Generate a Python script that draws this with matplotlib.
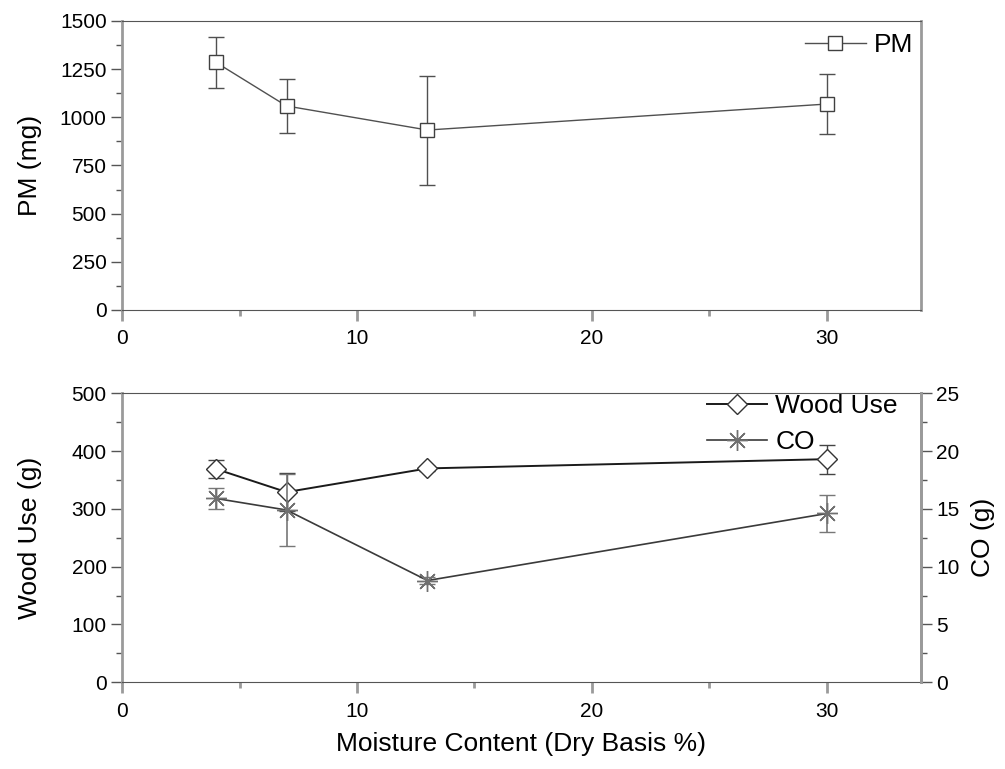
import numpy as np
import matplotlib
matplotlib.use("Agg")
import matplotlib.pyplot as plt
from matplotlib.ticker import MultipleLocator

plt.rcParams['font.family'] = ['Liberation Sans', 'DejaVu Sans']

# moisture content of the fuel (dry basis %)
moisture = [4, 7, 13, 30]

# particulate matter
pm = [1285, 1059, 934, 1069]
pm_err = [132, 138, 283, 155]

# wood consumed
wood = [369, 329, 370, 386]
wood_err = [15, 33, 5, 25]

# carbon monoxide
co = [15.9, 14.9, 8.8, 14.6]
co_err = [0.9, 3.1, 0.3, 1.6]

GREY = '#9a9a9a'
DARK = '#555555'


def style_axes(ax):
    ax.spines['left'].set_color(GREY)
    ax.spines['left'].set_linewidth(2)
    ax.spines['right'].set_color(GREY)
    ax.spines['right'].set_linewidth(2)
    ax.spines['top'].set_color(DARK)
    ax.spines['bottom'].set_color(DARK)
    ax.set_xlim(0, 34)
    ax.xaxis.set_major_locator(MultipleLocator(10))
    ax.xaxis.set_minor_locator(MultipleLocator(5))
    ax.tick_params(axis='x', which='major', length=8, width=2, color=GREY,
                   labelsize=15, pad=6)
    ax.tick_params(axis='x', which='minor', length=4, width=2, color=GREY)
    ax.tick_params(axis='y', which='major', length=8, width=1, color=DARK,
                   labelsize=15, pad=3)
    ax.tick_params(axis='y', which='minor', length=4, width=1, color=DARK)


fig = plt.figure(figsize=(10.05, 7.69), dpi=100)
ax1 = fig.add_axes([0.1214, 0.5969, 0.795, 0.3758])
ax2 = fig.add_axes([0.1214, 0.1128, 0.795, 0.3758])

# top panel: PM
pm_line = ax1.errorbar(moisture, pm, yerr=pm_err, color='#505050', lw=1,
                       ecolor='#505050', elinewidth=1, capsize=6, capthick=1,
                       marker='s', ms=10, mfc='white', mec='#404040', mew=1)
style_axes(ax1)
ax1.set_ylim(0, 1500)
ax1.yaxis.set_major_locator(MultipleLocator(250))
ax1.yaxis.set_minor_locator(MultipleLocator(125))
ax1.set_ylabel('PM (mg)', fontsize=19)
ax1.yaxis.set_label_coords(-0.1005, 0.5)
ax1.legend([pm_line[0]], ['PM'], loc='upper right', frameon=False,
           fontsize=19, handlelength=2.3, handletextpad=0.3,
           borderaxespad=0.3, borderpad=0.3, bbox_to_anchor=(1.010, 1.014))

# bottom panel: wood use (left) and CO (right)
ax3 = ax2.twinx()
wood_line = ax2.errorbar(moisture, wood, yerr=wood_err, color='#1a1a1a',
                         lw=1.4, ecolor='#444444', elinewidth=1, capsize=6,
                         capthick=1, marker='D', ms=10, mfc='white',
                         mec='#333333', mew=1)
co_line = ax3.errorbar(moisture, co, yerr=co_err, color='#3a3a3a', lw=1.2,
                       ecolor='#777777', elinewidth=1.2, capsize=6,
                       capthick=1, marker=(8, 2, 0), ms=15, mec='#707070',
                       mew=1)
style_axes(ax2)
ax2.set_ylim(0, 500)
ax2.yaxis.set_major_locator(MultipleLocator(100))
ax2.yaxis.set_minor_locator(MultipleLocator(50))
ax2.set_ylabel('Wood Use (g)', fontsize=19)
ax2.yaxis.set_label_coords(-0.1005, 0.5)
ax2.set_xlabel('Moisture Content (Dry Basis %)', fontsize=19, labelpad=8)

ax3.set_ylim(0, 25)
ax3.yaxis.set_major_locator(MultipleLocator(5))
ax3.yaxis.set_minor_locator(MultipleLocator(2.5))
for side in ('left', 'top', 'bottom'):
    ax3.spines[side].set_visible(False)
ax3.spines['right'].set_color(GREY)
ax3.spines['right'].set_linewidth(2)
ax3.tick_params(axis='y', which='major', length=8, width=1, color=DARK,
                labelsize=15, pad=3)
ax3.tick_params(axis='y', which='minor', length=4, width=1, color=DARK)
ax3.set_ylabel('CO (g)', fontsize=19, labelpad=8)
ax3.legend([wood_line[0], co_line[0]], ['Wood Use', 'CO'],
           loc='upper right', frameon=False, fontsize=19, handlelength=2.3,
           handletextpad=0.3, labelspacing=0.45, borderaxespad=0.1,
           borderpad=0.1, bbox_to_anchor=(0.9775, 1.014))

fig.savefig('out.png', dpi=100)
